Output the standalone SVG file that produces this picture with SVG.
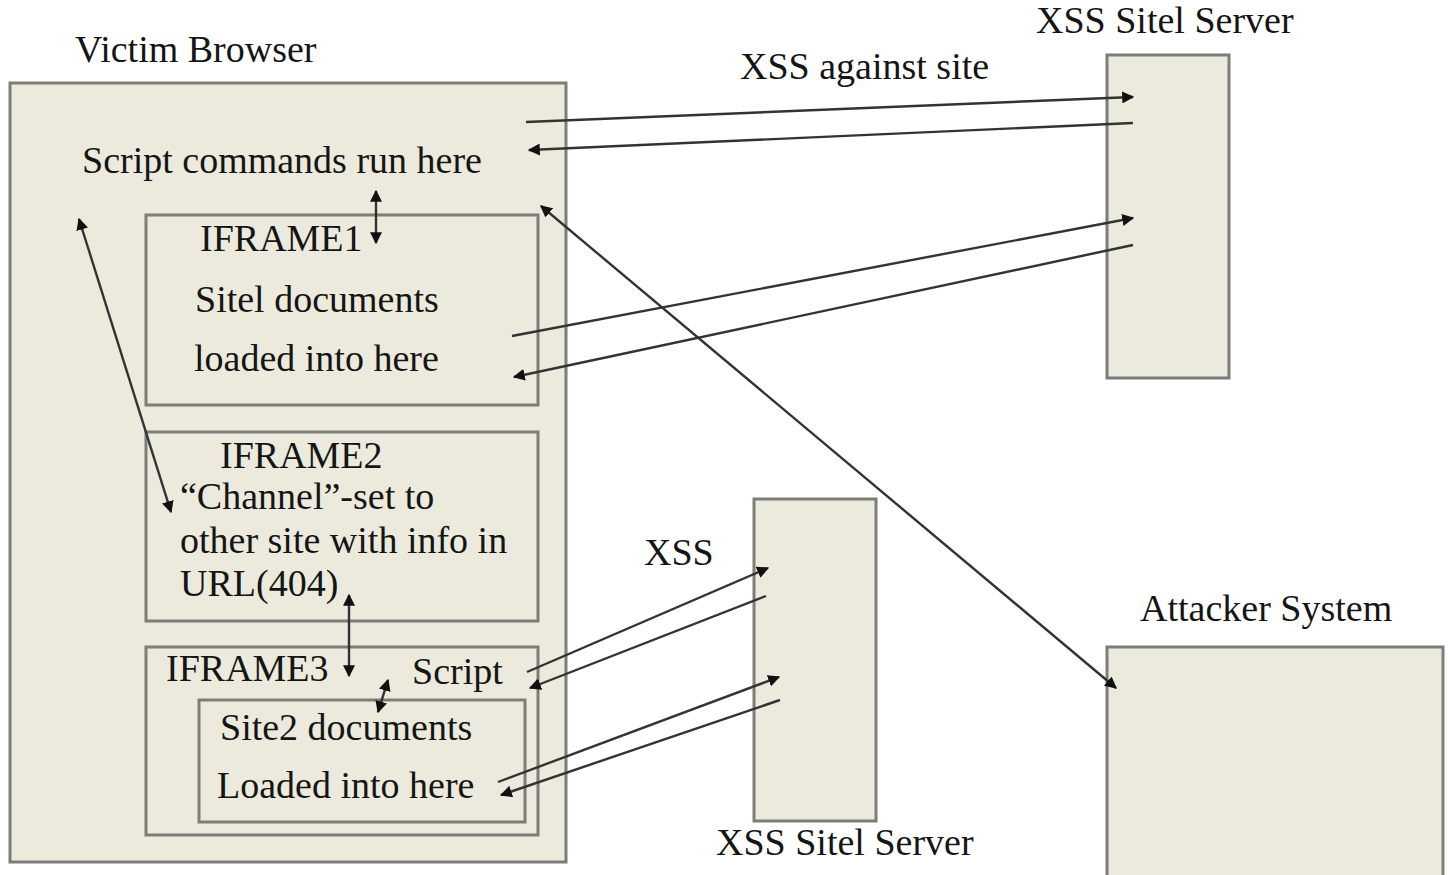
<svg xmlns="http://www.w3.org/2000/svg" width="1452" height="875" viewBox="0 0 1452 875">
<style>
.box{fill:#ebeadc;stroke:#7d7d7a;stroke-width:3}
.t{font-family:"Liberation Serif","Times New Roman",serif;font-size:38px;fill:#151515}
.c{fill:none;stroke:#333333;stroke-width:2.4}
</style>
<defs>
<marker id="ah" viewBox="0 0 10 10" refX="9" refY="5" markerWidth="5" markerHeight="5" orient="auto-start-reverse" markerUnits="strokeWidth">
<path d="M0,0 L10,5 L0,10 z" fill="#111111"/>
</marker>
</defs>
<rect width="1452" height="875" fill="#ffffff"/>
<g id="victim-browser">
<rect class="box" x="10" y="83" width="556" height="779"/>
<text class="t" x="75" y="62">Victim Browser</text>
<text class="t" x="82" y="173">Script commands run here</text>
</g>
<g id="iframe1">
<rect class="box" x="146" y="215" width="392" height="190"/>
<text class="t" x="200" y="251">IFRAME1</text>
<text class="t" x="195" y="312">Sitel documents</text>
<text class="t" x="194" y="371">loaded into here</text>
</g>
<g id="iframe2">
<rect class="box" x="146" y="432" width="392" height="189"/>
<text class="t" x="220" y="468">IFRAME2</text>
<text class="t" x="180" y="509">“Channel”-set to</text>
<text class="t" x="180" y="553">other site with info in</text>
<text class="t" x="180" y="596">URL(404)</text>
</g>
<g id="iframe3">
<rect class="box" x="146" y="647" width="392" height="188"/>
<text class="t" x="166" y="681">IFRAME3</text>
<text class="t" x="412" y="684">Script</text>
</g>
<g id="site2-docs">
<rect class="box" x="199" y="700" width="326" height="122"/>
<text class="t" x="220" y="740">Site2 documents</text>
<text class="t" x="217" y="798">Loaded into here</text>
</g>
<g id="server1">
<rect class="box" x="1107" y="55" width="122" height="323"/>
<text class="t" x="1036" y="33">XSS Sitel Server</text>
</g>
<g id="server2">
<rect class="box" x="754" y="499" width="122" height="322"/>
<text class="t" x="716" y="855">XSS Sitel Server</text>
</g>
<g id="attacker">
<rect class="box" x="1107" y="647" width="336" height="240"/>
<text class="t" x="1140" y="621">Attacker System</text>
</g>
<g id="labels">
<text class="t" x="740" y="79">XSS against site</text>
<text class="t" x="644" y="565">XSS</text>
</g>
<g id="connectors">
<line class="c" x1="526" y1="122" x2="1133" y2="97" marker-end="url(#ah)"/>
<line class="c" x1="1133" y1="123" x2="529" y2="150" marker-end="url(#ah)"/>
<line class="c" x1="512" y1="336" x2="1133" y2="218" marker-end="url(#ah)"/>
<line class="c" x1="1133" y1="245" x2="514" y2="377" marker-end="url(#ah)"/>
<line class="c" x1="376" y1="191" x2="376" y2="243" marker-start="url(#ah)" marker-end="url(#ah)"/>
<line class="c" x1="79" y1="219" x2="171" y2="512" marker-start="url(#ah)" marker-end="url(#ah)"/>
<line class="c" x1="541" y1="206" x2="1116" y2="688" marker-start="url(#ah)" marker-end="url(#ah)"/>
<line class="c" x1="349" y1="595" x2="349" y2="676" marker-start="url(#ah)" marker-end="url(#ah)"/>
<line class="c" x1="388" y1="680" x2="378" y2="712" marker-start="url(#ah)" marker-end="url(#ah)"/>
<line class="c" x1="527" y1="672" x2="768" y2="568" marker-end="url(#ah)"/>
<line class="c" x1="766" y1="596" x2="530" y2="688" marker-end="url(#ah)"/>
<line class="c" x1="498" y1="782" x2="779" y2="677" marker-end="url(#ah)"/>
<line class="c" x1="780" y1="700" x2="501" y2="795" marker-end="url(#ah)"/>
</g>
</svg>
